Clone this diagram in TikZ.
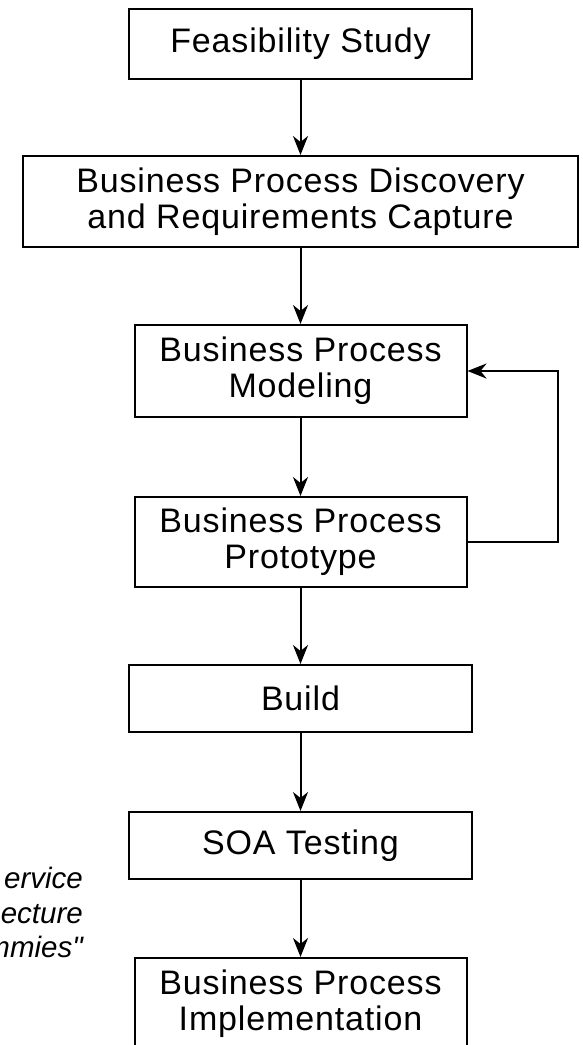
\documentclass[tikz,border=0pt]{standalone}
\usepackage{fontspec}
\setmainfont{Liberation Sans}
\newfontfamily\boxfont[LetterSpace=2.5]{Liberation Sans}
\usetikzlibrary{arrows.meta}

\begin{document}
\begin{tikzpicture}[x=1pt,y=1pt,
	stage/.style={draw,line width=2pt,align=center,inner sep=0pt,
		font=\boxfont\fontsize{34}{36}\selectfont},
	flow/.style={line width=2pt,-{Stealth[length=19pt,width=15pt,inset=6pt]}}]
		\useasboundingbox (0,0) rectangle (583,-1045);
		%put the stages top to bottom
		\node[stage,minimum width=343pt,minimum height=70pt] (feas) at (300.5,-44) {Feasibility Study};
		\node[stage,minimum width=555pt,minimum height=91pt] (disc) at (300.5,-201.5) {Business Process Discovery\\and Requirements Capture};
		\node[stage,minimum width=332pt,minimum height=92pt] (model) at (300.5,-371) {Business Process\\Modeling};
		\node[stage,minimum width=332pt,minimum height=90pt] (proto) at (300.5,-542) {Business Process\\Prototype};
		\node[stage,minimum width=343pt,minimum height=67pt] (build) at (300.5,-698.5) {Build};
		\node[stage,minimum width=343pt,minimum height=67pt] (test) at (300.5,-845.5) {SOA Testing};
		\node[stage,minimum width=332pt,minimum height=92pt] (impl) at (300.5,-1004) {Business Process\\Implementation};
		%credit text on the left, cut off by the edge
		\foreach \t/\y [count=\i] in {ervice/888,ecture/923,{mmies\textquotedbl}/957}{
			\node[anchor=base east,inner sep=0pt,font=\itshape\fontsize{29.5}{34.5}\selectfont] (credit\i) at (83,-\y) {\t};
		}
		%connect them
		\draw[flow] (feas) -- (disc);
		\draw[flow] (disc) -- (model);
		\draw[flow] (model) -- (proto);
		\draw[flow] (proto) -- (build);
		\draw[flow] (build) -- (test);
		\draw[flow] (test) -- (impl);
		\draw[flow] (proto.east) -- ++(90,0) |- (model.east);
\end{tikzpicture}
\end{document}
